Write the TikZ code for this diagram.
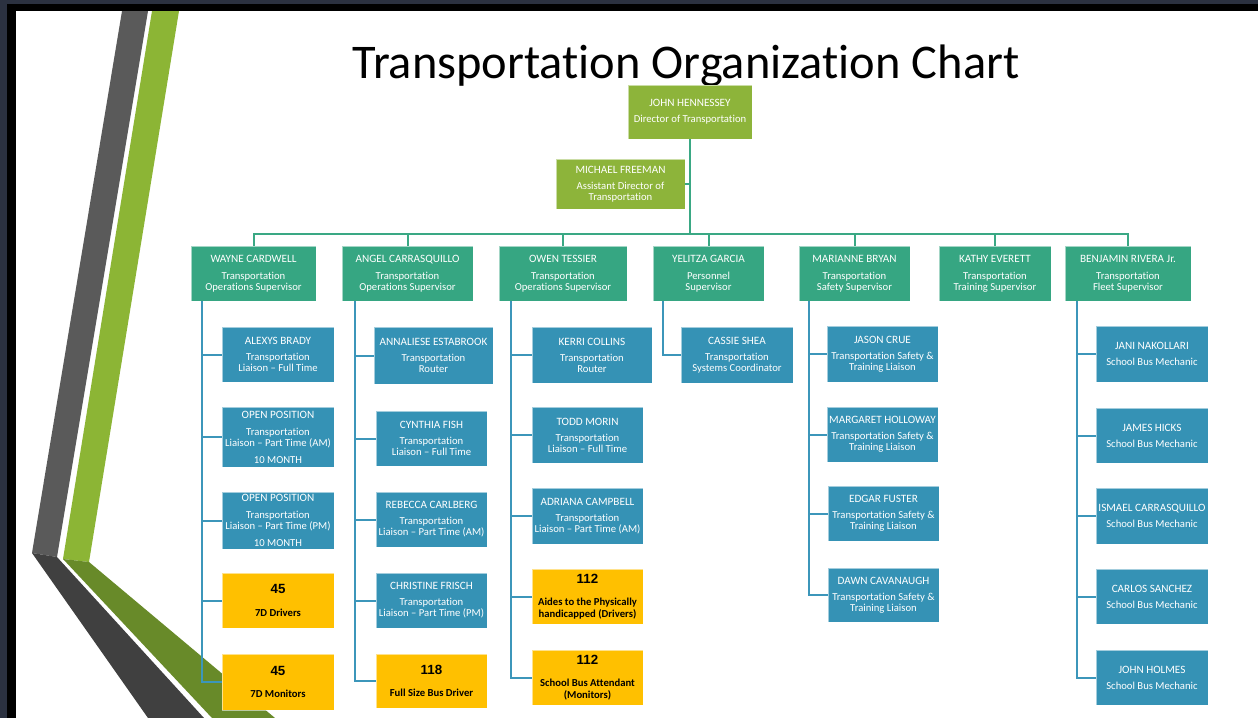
\documentclass[tikz,border=0pt]{standalone}
\usepackage{fontspec}
\setmainfont{Carlito}[Ligatures={TeX,NoCommon}]
\newfontfamily\numfont{Liberation Sans}
\definecolor{cOlive}{HTML}{8DB43A}
\definecolor{cSup}{HTML}{36A682}
\definecolor{cBlue}{HTML}{3592B5}
\definecolor{cYel}{HTML}{FFC000}
\definecolor{cLineG}{HTML}{3AA884}
\definecolor{cLineB}{HTML}{3C96BA}
\definecolor{gUp}{HTML}{5A5A5A}
\definecolor{gLo}{HTML}{404040}
\definecolor{grUp}{HTML}{8CB535}
\definecolor{grLo}{HTML}{688A29}
\definecolor{frameDark}{HTML}{2B3140}
\newcommand\nm[1]{\makebox[0pt]{\fontsize{8.4}{8.25}\selectfont #1}}
\newcommand\cnt[1]{{\numfont\bfseries\fontsize{10}{8.25}\selectfont #1}}
\begin{document}
\begin{tikzpicture}[x=0.75pt,y=-0.75pt,
  bb/.style args={#1/#2/#3/#4}{minimum width={(#3-#1)*0.75pt}, minimum height={(#4-#2)*0.75pt},
    at={({(#1+#3)/2},{(#2+#4)/2+1})}},
  box/.style={inner sep=0pt, align=center, text=white,
    font=\fontsize{8}{8.25}\selectfont, draw=white, draw opacity=0.55, line width=0.6pt},
  olivebox/.style={box, fill=cOlive},
  supbox/.style={box, fill=cSup},
  bluebox/.style={box, fill=cBlue},
  yelbox/.style={box, fill=cYel, text=black, font=\bfseries\fontsize{8}{8.25}\selectfont},
  topline/.style={draw=cLineG, line width=1.5pt},
  subline/.style={draw=cLineB, line width=1.5pt}]
\useasboundingbox (0,0) rectangle (1258,718);
% background and frame
\fill[frameDark] (0,0) rectangle (1258,718);
\fill[black] (7,4) rectangle (1258,718);
\fill[white] (16,11) rectangle (1258,718);
% decorative swoosh
\fill[gUp] (122,11) -- (148,11) -- (57,557) -- (32,553) -- cycle;
\fill[grUp] (152,11) -- (179,11) -- (89,562) -- (63,559) -- cycle;
\fill[gLo] (32,553) -- (57,557) -- (204,718) -- (148,718) -- cycle;
\fill[grLo] (63,559) -- (89,562) -- (275,718) -- (212,718) -- cycle;
% title
\node[anchor=base, font=\fontsize{36.3}{40}\selectfont, inner sep=0pt] (title) at (686,78.5) {Transportation Organization Chart};
% connector coordinates
\coordinate (bus) at (690,234);
\coordinate (t1) at (202,301);
\coordinate (t2) at (355,301);
\coordinate (t3) at (511,301);
\coordinate (t4) at (663,301);
\coordinate (t5) at (809,301);
\coordinate (t7) at (1077,301);
% top level
\node[olivebox, bb=628/84/752/138] (john) {\nm{JOHN HENNESSEY}\\[3.75pt]Director of Transportation};
\node[olivebox, bb=556/158/685/208] (michael) {\nm{MICHAEL FREEMAN}\\[3.75pt]Assistant Director of\\Transportation};
% supervisors
\node[supbox, bb=191/245/316/300] (wayne) {\nm{WAYNE CARDWELL}\\[4.5pt]Transportation\\Operations Supervisor};
\node[supbox, bb=342/245/473/300] (angel) {\nm{ANGEL CARRASQUILLO}\\[4.5pt]Transportation\\Operations Supervisor};
\node[supbox, bb=499/245/627/300] (owen) {\nm{OWEN TESSIER}\\[4.5pt]Transportation\\Operations Supervisor};
\node[supbox, bb=653/245/764/300] (yelitza) {\nm{YELITZA GARCIA}\\[4.5pt]Personnel\\Supervisor};
\node[supbox, bb=799/245/910/300] (marianne) {\nm{MARIANNE BRYAN}\\[4.5pt]Transportation\\Safety Supervisor};
\node[supbox, bb=939/245/1051/300] (kathy) {\nm{KATHY EVERETT}\\[4.5pt]Transportation\\Training Supervisor};
\node[supbox, bb=1065/245/1191/300] (benjamin) {\nm{BENJAMIN RIVERA Jr.}\\[4.5pt]Transportation\\Fleet Supervisor};
% column 1
\node[bluebox, bb=222/326/334/381] (alexys) {\nm{ALEXYS BRADY}\\[3.75pt]Transportation\\Liaison -- Full Time};
\node[bluebox, bb=222/406/334/466] (open1) {\nm{OPEN POSITION}\\[4.5pt]Transportation\\Liaison -- Part Time (AM)\\[4.5pt]10 MONTH};
\node[bluebox, bb=222/491/334/548] (open2) {\nm{OPEN POSITION}\\[4.5pt]Transportation\\Liaison -- Part Time (PM)\\[4.5pt]10 MONTH};
\node[yelbox, bb=222/572/334/627] (dr45) {\cnt{45}\\[8.5pt]7D Drivers};
\node[yelbox, bb=222/653/334/709] (mon45) {\cnt{45}\\[8.5pt]7D Monitors};
% column 2
\node[bluebox, bb=374/326/493/383] (annaliese) {\nm{ANNALIESE ESTABROOK}\\[3.75pt]Transportation\\Router};
\node[bluebox, bb=376/410/487/465] (cynthia) {\nm{CYNTHIA FISH}\\[3.75pt]Transportation\\Liaison -- Full Time};
\node[bluebox, bb=376/491/487/546] (rebecca) {\nm{REBECCA CARLBERG}\\[3.75pt]Transportation\\Liaison -- Part Time (AM)};
\node[bluebox, bb=376/572/487/627] (christine) {\nm{CHRISTINE FRISCH}\\[3.75pt]Transportation\\Liaison -- Part Time (PM)};
\node[yelbox, bb=376/653/487/707] (bus118) {\cnt{118}\\[8.5pt]Full Size Bus Driver};
% column 3
\node[bluebox, bb=532/326/652/382] (kerri) {\nm{KERRI COLLINS}\\[3.75pt]Transportation\\Router};
\node[bluebox, bb=532/406/643/462] (todd) {\nm{TODD MORIN}\\[3.75pt]Transportation\\Liaison -- Full Time};
\node[bluebox, bb=532/487/643/543] (adriana) {\nm{ADRIANA CAMPBELL}\\[3.75pt]Transportation\\Liaison -- Part Time (AM)};
\node[yelbox, bb=532/568/643/623] (aides) {\cnt{112}\\[8.5pt]Aides to the Physically\\[0.6pt]handicapped (Drivers)};
\node[yelbox, bb=532/649/643/704] (attend) {\cnt{112}\\[8.5pt]School Bus Attendant\\[0.6pt](Monitors)};
% column 4
\node[bluebox, bb=681/326/793/382] (cassie) {\nm{CASSIE SHEA}\\[3.75pt]Transportation\\Systems Coordinator};
% column 5
\node[bluebox, bb=827/325/938/381] (jason) {\nm{JASON CRUE}\\[3.75pt]Transportation Safety \&\\Training Liaison};
\node[bluebox, bb=827/406/938/461] (margaret) {\nm{MARGARET HOLLOWAY}\\[3.75pt]Transportation Safety \&\\Training Liaison};
\node[bluebox, bb=828/485/939/540] (edgar) {\nm{EDGAR FUSTER}\\[3.75pt]Transportation Safety \&\\Training Liaison};
\node[bluebox, bb=828/567/939/621] (dawn) {\nm{DAWN CAVANAUGH}\\[3.75pt]Transportation Safety \&\\Training Liaison};
% column 7
\node[bluebox, bb=1096/325/1208/381] (jani) {\nm{JANI NAKOLLARI}\\[3.75pt]School Bus Mechanic};
\node[bluebox, bb=1096/407/1208/462] (james) {\nm{JAMES HICKS}\\[3.75pt]School Bus Mechanic};
\node[bluebox, bb=1096/487/1208/543] (ismael) {\nm{ISMAEL CARRASQUILLO}\\[3.75pt]School Bus Mechanic};
\node[bluebox, bb=1096/568/1208/623] (carlos) {\nm{CARLOS SANCHEZ}\\[3.75pt]School Bus Mechanic};
\node[bluebox, bb=1096/649/1208/704] (holmes) {\nm{JOHN HOLMES}\\[3.75pt]School Bus Mechanic};
% connector lines
\draw[topline] (john.south) -- (bus);
\draw[topline] (michael.east) -- (michael.east -| john.south);
\foreach \s in {wayne,angel,owen,yelitza,marianne,kathy,benjamin}
  \draw[topline] (bus) -| (\s.north);
\foreach \c in {alexys,open1,open2,dr45,mon45} \draw[subline] (t1) |- (\c.west);
\foreach \c in {annaliese,cynthia,rebecca,christine,bus118} \draw[subline] (t2) |- (\c.west);
\foreach \c in {kerri,todd,adriana,aides,attend} \draw[subline] (t3) |- (\c.west);
\draw[subline] (t4) |- (cassie.west);
\foreach \c in {jason,margaret,edgar,dawn} \draw[subline] (t5) |- (\c.west);
\foreach \c in {jani,james,ismael,carlos,holmes} \draw[subline] (t7) |- (\c.west);
\end{tikzpicture}
\end{document}
